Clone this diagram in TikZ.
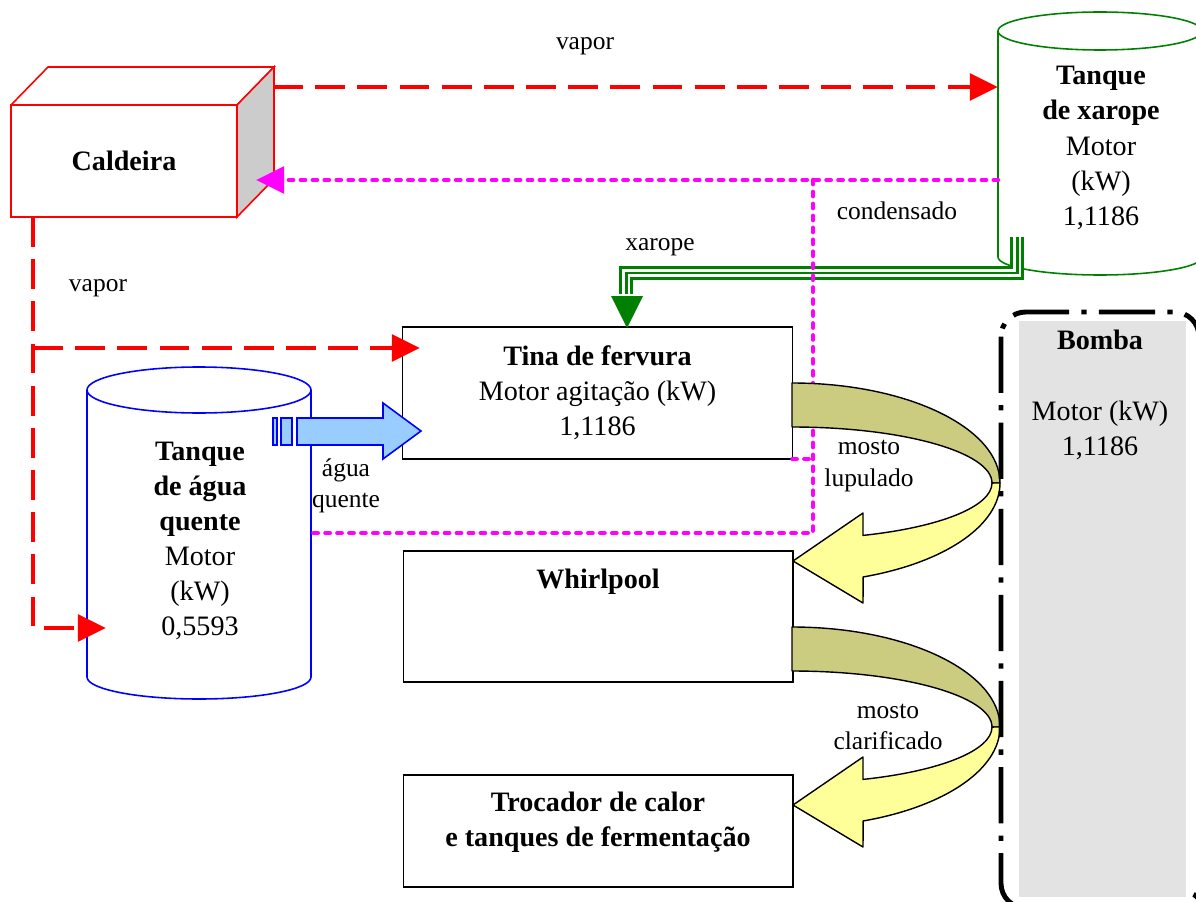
\documentclass[tikz,border=0pt]{standalone}
\usepackage{fontspec}
\setmainfont{Liberation Serif}
\usetikzlibrary{arrows.meta,positioning}

\definecolor{vapred}{RGB}{255,0,0}
\definecolor{condmag}{RGB}{255,0,255}
\definecolor{xargreen}{RGB}{0,128,0}
\definecolor{aguablue}{RGB}{153,204,255}
\definecolor{mostoolive}{RGB}{204,204,128}
\definecolor{mostoyellow}{RGB}{255,255,153}
\definecolor{bombagray}{RGB}{227,227,227}

\tikzset{
  big/.style={font=\fontsize{16}{20}\selectfont},
  lbl/.style={font=\fontsize{14.5}{18}\selectfont, align=center},
  box/.style={draw, line width=0.6pt, outer sep=0pt, minimum width=7.8cm, big, align=center},
  vapor/.style={vapred, line width=2.8pt, dash pattern=on 17pt off 7pt, -{Triangle[length=16pt,width=15pt]}},
  cond/.style={condmag, line width=2.6pt, line cap=round, dash pattern=on 2.4pt off 4.4pt},
  mostoarr/.style={draw=black, line width=0.8pt, line join=round},
}

\begin{document}
\begin{tikzpicture}[x=0.02cm, y=0.02cm]
    \clip (0,0) rectangle (1196,-902);

    % Caldeira
    \node[draw=vapred, line width=0.9pt, outer sep=0pt, minimum width=4.52cm, minimum height=2.24cm, big] (cal) at (124,-161) {\textbf{Caldeira}};
    \draw[vapred, line width=0.9pt] (cal.north west) -- ++(37,38) -- ++(226,0) -- (cal.north east);
    \filldraw[fill=gray!40, draw=vapred, line width=0.9pt] (cal.north east) -- ++(37,38) -- ++(0,-112) -- (cal.south east) -- cycle;

    % Tanques
    \draw[xargreen, line width=0.9pt] (998,-31) -- (998,-257) arc[start angle=180, end angle=360, x radius=102, y radius=18] -- (1202,-31);
    \draw[xargreen, line width=0.9pt] (1100,-31) ellipse[x radius=102, y radius=19];
    \node[big, align=center] (xar) at (1101,-148) {\textbf{Tanque}\\\textbf{de xarope}\\Motor\\(kW)\\1,1186};

    \draw[blue, line width=0.9pt] (87,-390) -- (87,-677) arc[start angle=180, end angle=360, x radius=112, y radius=22] -- (311,-390);
    \draw[blue, line width=0.9pt] (199,-390) ellipse[x radius=112, y radius=23];
    \node[big, align=center] (agua) at (200,-541) {\textbf{Tanque}\\\textbf{de água}\\\textbf{quente}\\Motor\\(kW)\\0,5593};

    % Processo
    \node[box, minimum height=2.64cm] (tina) at (597.5,-393) {\textbf{Tina de fervura}\\Motor agitação (kW)\\1,1186};
    \node[box, minimum height=2.62cm] (whirl) at (598,-616.5) {};
    \node[big] (whirl-t) at (598,-582) {\textbf{Whirlpool}};
    \node[box, minimum height=2.24cm] (troc) at (598,-831) {};
    \node[big, align=center] (troc-t) at (598,-822) {\textbf{Trocador de calor}\\\textbf{e tanques de fermentação}};

    % Vapor
    \coordinate (cal-v1) at (273,-87);
    \coordinate (xar-v) at (998,-87);
    \coordinate (cal-v2) at (33,-217);
    \coordinate (v-j) at (33,-348);
    \coordinate (tina-v) at (420,-348);
    \coordinate (agua-v) at (106,-628);
    \draw[vapor] (cal-v1) -- (xar-v);
    \draw[vapor] (cal-v2) |- (agua-v);
    \draw[vapor] (v-j) -- (tina-v);

    % Xarope
    \coordinate (xar-x) at (1017,-237);
    \coordinate (tina-x) at (626,-294);
    \foreach \w/\c in {8.5pt/xargreen, 5.1pt/white, 1.7pt/xargreen}
        \draw[\c, line width=\w] (xar-x) |- (626,-273) -- (tina-x);
    \fill[xargreen] (611,-296) -- (643,-296) -- (627,-328) -- cycle;

    % Condensado
    \coordinate (xar-c) at (998,-180);
    \coordinate (cal-c) at (256,-180);
    \coordinate (c-j) at (813,-180);
    \coordinate (agua-c) at (311,-533);
    \draw[cond, -{Triangle[length=16pt,width=15pt]}] (xar-c) -- (cal-c);
    \draw[cond] (c-j) |- (agua-c);
    \draw[cond] (tina.south east) -- (tina.south east -| c-j);

    % Agua quente
    \filldraw[fill=aguablue, draw=blue, line width=0.9pt] (273,-418) rectangle (277,-445) (281,-418) rectangle (292,-445);
    \filldraw[fill=aguablue, draw=blue, line width=0.9pt] (297,-418) -- (383,-418) -- (383,-403) -- (421,-431) -- (383,-459) -- (383,-445) -- (297,-445) -- cycle;

    % Mosto
    \foreach \dy in {483,727} {
        \begin{scope}[shift={(792,-\dy)}]
            \filldraw[mostoarr, fill=mostoolive] (0,100) arc[start angle=90, end angle=0, x radius=208, y radius=100] -- (200,0) arc[start angle=0, end angle=90, x radius=200, y radius=56] -- cycle;
            \filldraw[mostoarr, fill=mostoyellow] (208,0) arc[start angle=0, end angle=-70, x radius=208, y radius=100] -- (71,-120) -- (1,-78) -- (71,-30) -- (71,-52.4) arc[start angle=-69.2, end angle=0, x radius=200, y radius=56] -- cycle;
        \end{scope}
    }

    % Bomba
    \fill[bombagray] (1019,-321) rectangle (1186,-897);
    \draw[line width=2.8pt, rounded corners=14pt, dash pattern=on 32pt off 7pt on 3pt off 7pt] (1001,-312) rectangle (1199,-908);
    \node[big, align=center] (bomba) at (1100,-395) {\textbf{Bomba}\\[20pt]Motor (kW)\\1,1186};

    % Labels
    \node[lbl] (vap-t) at (585,-46) {vapor};
    \node[lbl] (vap-l) at (98,-288) {vapor};
    \node[lbl] (cond-l) at (897,-211) {condensado};
    \node[lbl] (xar-l) at (660,-247) {xarope};
    \node[lbl] (agua-l) at (346,-486) {água\\quente};
    \node[lbl] (most-l1) at (869,-466) {mosto\\lupulado};
    \node[lbl] (most-l2) at (888,-727) {mosto\\clarificado};

\end{tikzpicture}
\end{document}
